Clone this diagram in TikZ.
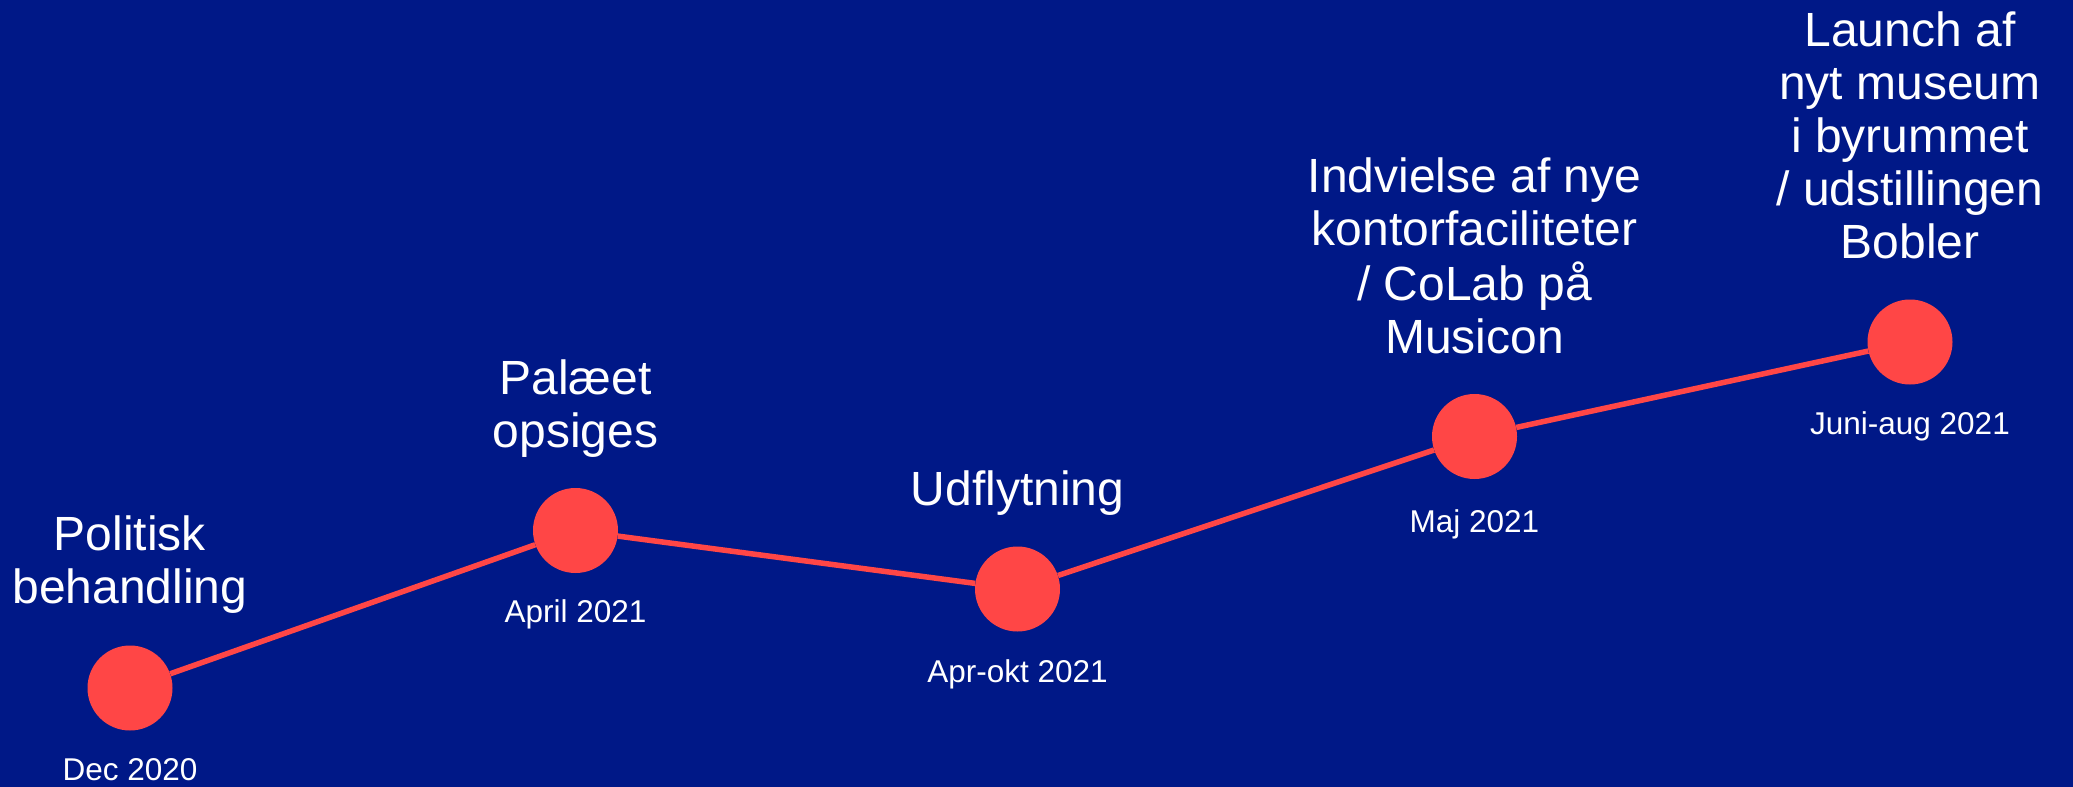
\documentclass[tikz,border=0pt]{standalone}
\usepackage{fontspec}
\setmainfont{Liberation Sans}
\definecolor{bgblue}{HTML}{001887}
\definecolor{dotred}{HTML}{FF4646}
\tikzset{
  dot/.style={circle, fill=dotred, draw=none, minimum size=85pt, inner sep=0pt},
  link/.style={draw=dotred, line width=5.5pt},
  title/.style={text=white, inner sep=0pt, anchor=base, font=\fontsize{48}{53}\selectfont},
  datelbl/.style={text=white, inner sep=0pt, anchor=base, font=\fontsize{31.5}{36}\selectfont},
}
\newcommand{\lines}[1]{\begin{tabular}[b]{@{}c@{}}#1\end{tabular}}
\begin{document}
\begin{tikzpicture}[x=1pt,y=-1pt]
\fill[bgblue] (0,0) rectangle (2073,787);
\useasboundingbox (0,0) rectangle (2073,787);
% dots
\node[dot] (c1) at (130,688) {};
\node[dot] (c2) at (575.5,530.5) {};
\node[dot] (c3) at (1017.5,589) {};
\node[dot] (c4) at (1474.5,436.5) {};
\node[dot] (c5) at (1910,342) {};
% links
\draw[link] (c1) -- (c2);
\draw[link] (c2) -- (c3);
\draw[link] (c3) -- (c4);
\draw[link] (c4) -- (c5);
% titles
\node[title] (t1) at (130,603) {\lines{Politisk\\behandling}};
\node[title] (t2) at (575.5,447) {\lines{Palæet\\opsiges}};
\node[title] (t3) at (1017.5,505) {\lines{Udflytning}};
\node[title] (t4) at (1474.5,353) {\lines{Indvielse af nye\\kontorfaciliteter\\/ CoLab på\\Musicon}};
\node[title] (t5) at (1910,258) {\lines{Launch af\\nyt museum\\i byrummet\\/ udstillingen\\Bobler}};
% dates
\node[datelbl] (d1) at (130,780) {Dec 2020};
\node[datelbl] (d2) at (575.5,622) {April 2021};
\node[datelbl] (d3) at (1017.5,682) {Apr-okt 2021};
\node[datelbl] (d4) at (1474.5,532) {Maj 2021};
\node[datelbl] (d5) at (1910,434) {Juni-aug 2021};
\end{tikzpicture}
\end{document}
